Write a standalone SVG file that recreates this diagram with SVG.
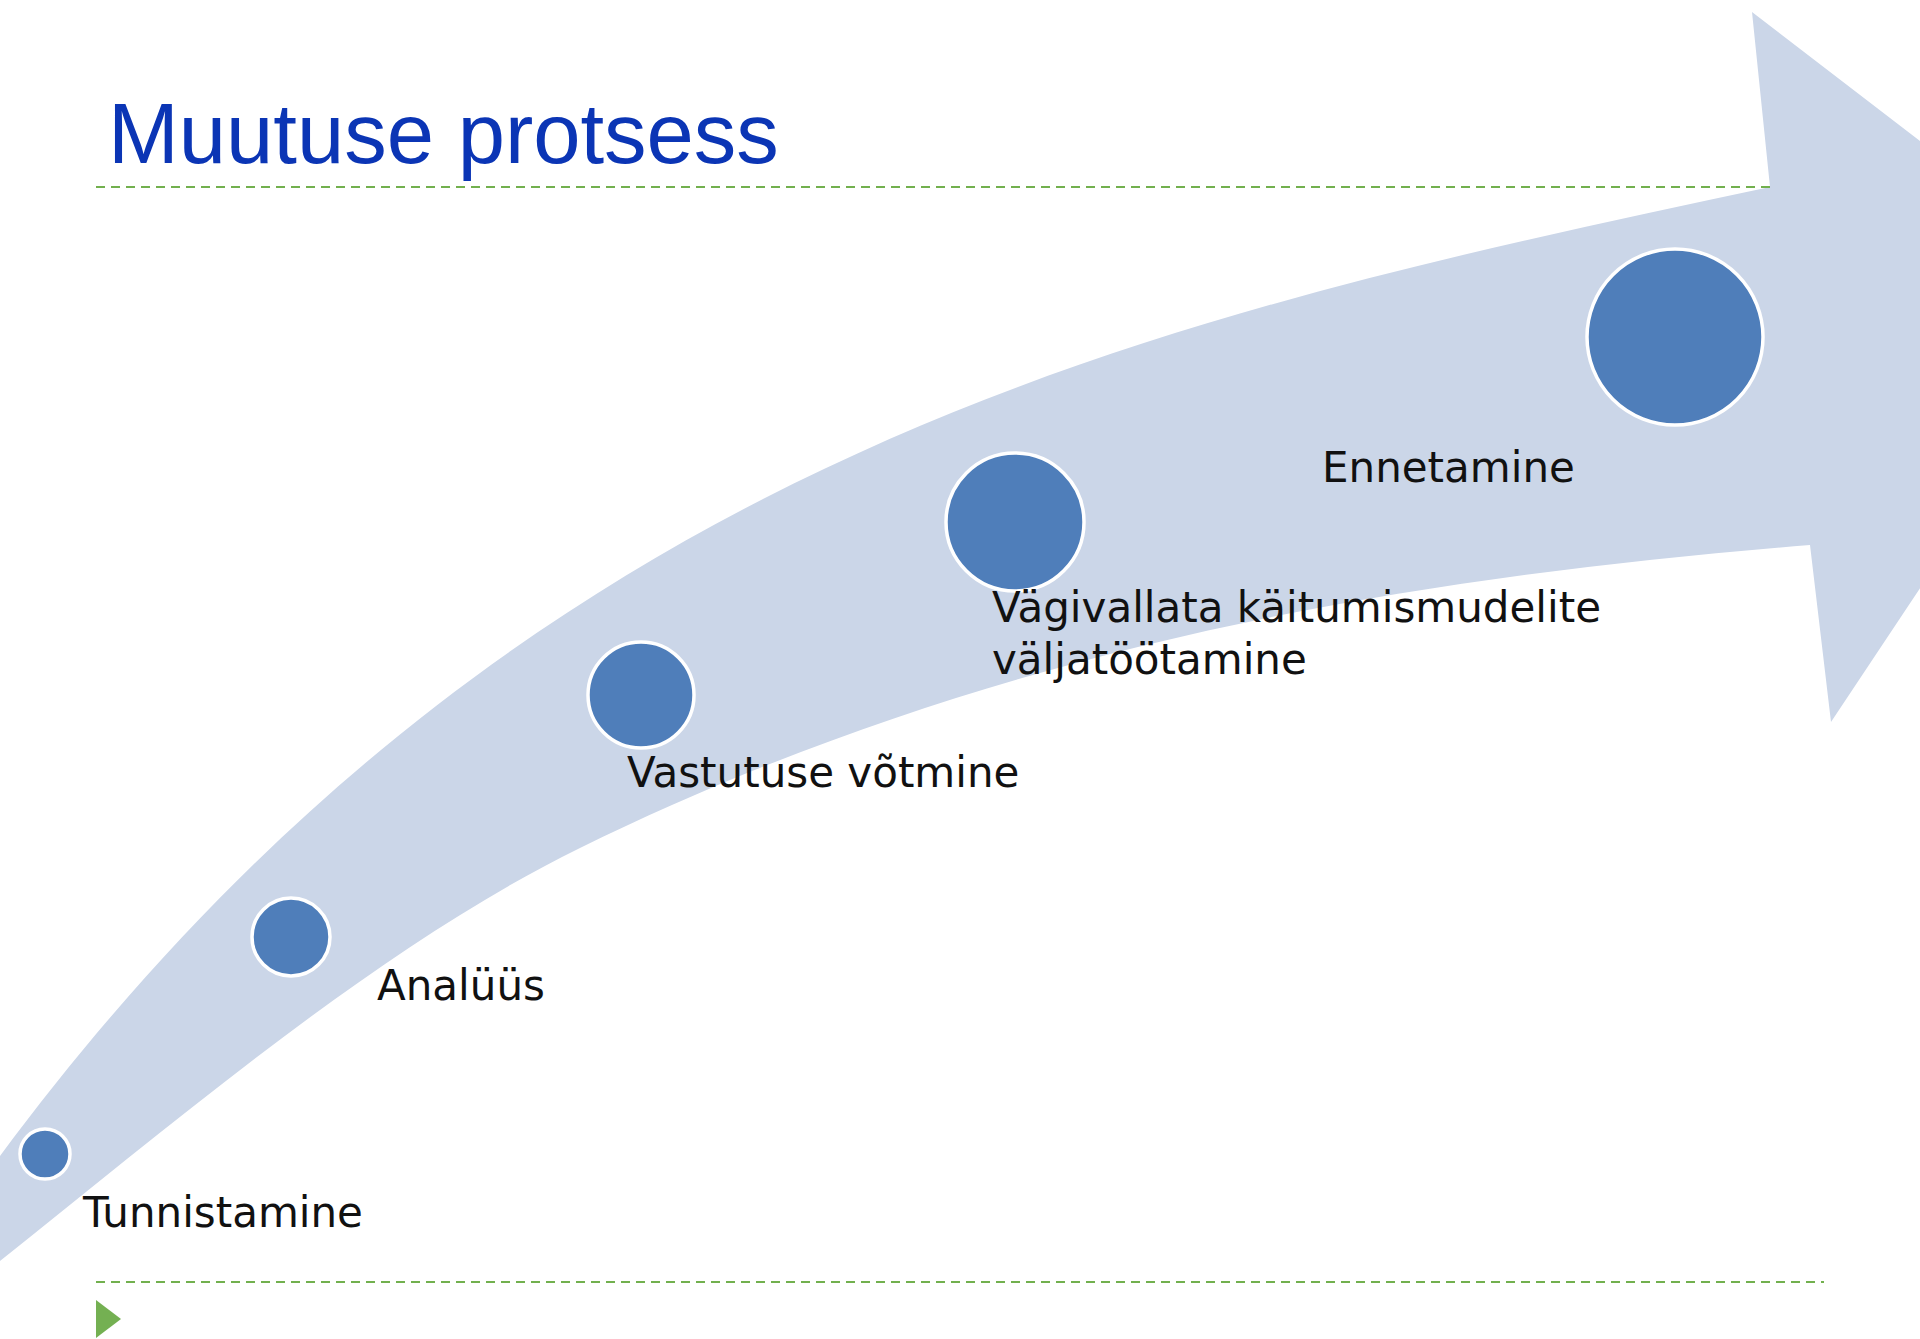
<svg xmlns="http://www.w3.org/2000/svg" width="1920" height="1339" viewBox="0 0 1920 1339">
<style>
.title{font-family:"Liberation Sans",Arial,sans-serif;font-size:85px;fill:#0B35B5}
.lbl{font-family:"DejaVu Sans","Verdana",sans-serif;font-size:42px;fill:#111}
.dot{fill:#4F7EBA;stroke:#FFFFFF;stroke-width:3.5}
.rule{stroke:#72B04E;stroke-width:2;stroke-dasharray:9 6;fill:none}
</style>
<rect width="1920" height="1339" fill="#FFFFFF"/>
<g id="arrow">
<path fill="#CBD6E8" d="M 0,1156 C 525,447 1170,315 1770,187 L 1752,12 L 2117,292 L 1831,722 L 1810,545 C 1400,577.8 990,647.1 580,848 C 387,942.6 193,1106.6 0,1261 Z"/>
</g>
<g id="title"><text class="title" x="108" y="163">Muutuse protsess</text></g>
<g id="rules">
<line class="rule" x1="96" y1="187" x2="1770" y2="187"/>
<line class="rule" x1="96" y1="1282" x2="1824" y2="1282"/>
<polygon points="96,1300 121,1319 96,1338" fill="#74B052"/>
</g>
<g id="connectors"></g>
<g id="node-tunnistamine">
<circle class="dot" cx="45" cy="1154" r="25"/>
<text class="lbl" x="83" y="1227">Tunnistamine</text>
</g>
<g id="node-analuus">
<circle class="dot" cx="291" cy="937" r="39"/>
<text class="lbl" x="377" y="1000">Analüüs</text>
</g>
<g id="node-vastutus">
<circle class="dot" cx="641" cy="695" r="53"/>
<text class="lbl" x="627" y="787">Vastutuse võtmine</text>
</g>
<g id="node-vagivallata">
<circle class="dot" cx="1015" cy="522" r="69"/>
<text class="lbl" x="992" y="622">Vägivallata käitumismudelite</text>
<text class="lbl" x="992" y="674">väljatöötamine</text>
</g>
<g id="node-ennetamine">
<circle class="dot" cx="1675" cy="337" r="88"/>
<text class="lbl" x="1322" y="482">Ennetamine</text>
</g>
</svg>
